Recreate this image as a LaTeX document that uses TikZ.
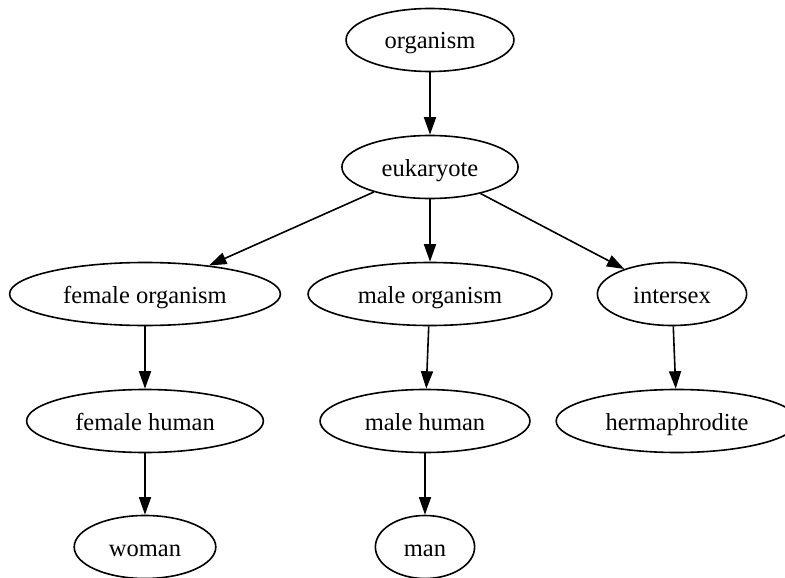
\documentclass[tikz,border=0pt]{standalone}
\usepackage{fontspec}
\setmainfont{Liberation Serif}
\usetikzlibrary{shapes.geometric,arrows.meta}
\begin{document}
\begin{tikzpicture}[x=1pt,y=-1pt,
    taxon/.style={draw,ellipse,line width=1.6pt,inner xsep=14pt,inner ysep=0pt,
        text height=22pt,text depth=4pt,
        minimum height=63pt,minimum width=94.5pt,font=\fontsize{24.5}{29}\selectfont},
    isa/.style={-{Triangle[length=17.5pt,width=12pt]},line width=1.6pt}]
\useasboundingbox (0,0) rectangle (785,578);
\clip (0,0) rectangle (785,578);

\node[taxon] (organism) at (430,40) {organism};
\node[taxon] (eukaryote) at (430,167) {eukaryote};

\node[taxon] (femaleorg) at (145,294) {female organism};
\node[taxon] (maleorg) at (430,294) {male organism};
\node[taxon] (intersex) at (672,294) {intersex};

\node[taxon] (femalehum) at (145,421) {female human};
\node[taxon] (malehum) at (425,421) {male human};
\node[taxon] (herm) at (677,421) {hermaphrodite};

\node[taxon] (woman) at (145,547) {woman};
\node[taxon] (man) at (425,547) {man};

\draw[isa] (organism) -- (eukaryote);
\draw[isa] (eukaryote) -- (femaleorg);
\draw[isa] (eukaryote) -- (maleorg);
\draw[isa] (eukaryote) -- (intersex);
\draw[isa] (femaleorg) -- (femalehum);
\draw[isa] (maleorg) -- (malehum);
\draw[isa] (intersex) -- (herm);
\draw[isa] (femalehum) -- (woman);
\draw[isa] (malehum) -- (man);
\end{tikzpicture}
\end{document}
